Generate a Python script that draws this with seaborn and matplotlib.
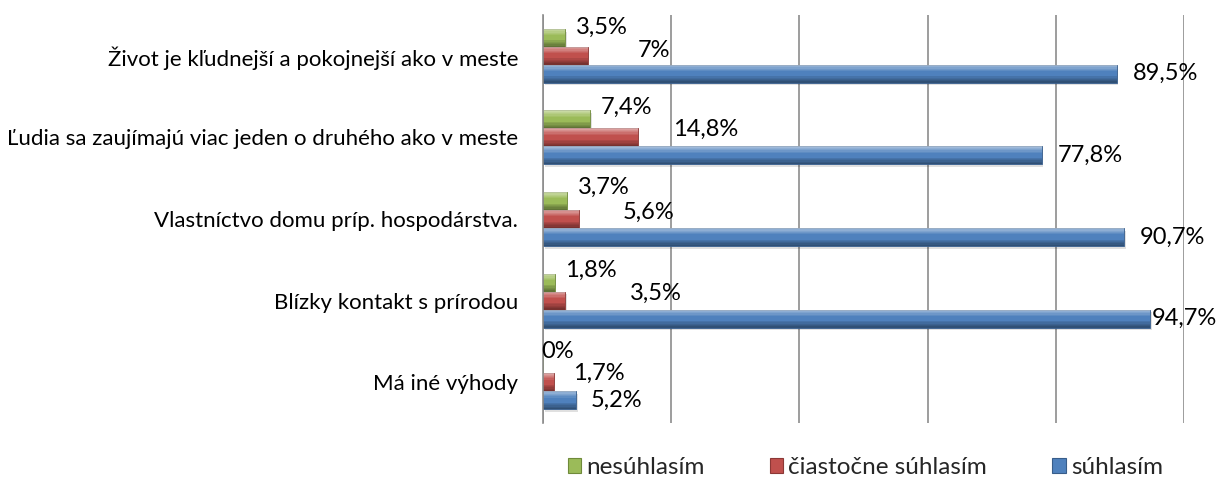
import matplotlib
matplotlib.use("Agg")
import matplotlib.pyplot as plt
from matplotlib.patches import Rectangle
import seaborn as sns
import pandas as pd
import numpy as np

categories = [
    "Život je kľudnejší a pokojnejší ako v meste",
    "Ľudia sa zaujímajú viac jeden o druhého ako v meste",
    "Vlastníctvo domu príp. hospodárstva.",
    "Blízky kontakt s prírodou",
    "Má iné výhody",
]
series_names = ["nesúhlasím", "čiastočne súhlasím", "súhlasím"]
nesuhlasim = [3.5, 7.4, 3.7, 1.8, 0]
ciastocne = [7, 14.8, 5.6, 3.5, 1.7]
suhlasim = [89.5, 77.8, 90.7, 94.7, 5.2]

colors = ["#9BBB59", "#C0504D", "#4F81BD"]
edge_colors = ["#6F8A3A", "#8C3836", "#385D8A"]

# label offsets (pixels) from bar end / bar centre
label_dx = [[10, 10, 11, 10, -2], [50, 35, 44, 64, 19], [16, 16, 15, 2, 14]]
label_dy = [[11, 12, 14, 12, 13], [5, 8, 7, 7, 9], [0, 0, 0, 0, 0]]

rows = []
for name, vals in zip(series_names, [nesuhlasim, ciastocne, suhlasim]):
    for c, v in zip(categories, vals):
        rows.append({"kategória": c, "séria": name, "hodnota": v})
df = pd.DataFrame(rows)

sns.set_theme(style="white")
plt.rcParams["font.family"] = ["Lato", "DejaVu Sans"]

fig = plt.figure(figsize=(12.22, 4.93), dpi=100)
ax = fig.add_axes([543 / 1222, 70 / 493, 641 / 1222, 408 / 493])

sns.barplot(data=df, y="kategória", x="hodnota", hue="séria",
            order=categories, hue_order=series_names,
            palette=colors, orient="h", width=0.66, ax=ax,
            errorbar=None, legend=False, saturation=1)

ax.set_xlim(0, 100)
ax.set_xticks(np.arange(0, 101, 20))
ax.xaxis.grid(True, color="#8C8C8C", linewidth=1.2)
ax.set_axisbelow(True)
ax.set_xticklabels([])
ax.tick_params(axis="x", length=0)
ax.tick_params(axis="y", length=0, pad=18, labelsize=16, labelcolor="#000000")
ax.set_xlabel("")
ax.set_ylabel("")
for s in ["top", "right", "bottom"]:
    ax.spines[s].set_visible(False)
ax.spines["left"].set_color("#8C8C8C")
ax.spines["left"].set_linewidth(1.2)

fmt = lambda v: (f"{v:g}".replace(".", ",")) + "%"

# vertical shading profile for a bevelled look (top light -> bottom dark)
n_strips = 14
profile = np.concatenate([np.linspace(0.45, 0.0, 6), np.zeros(3), np.linspace(-0.1, -0.38, 5)])

for si, cont in enumerate(ax.containers):
    for ci, p in enumerate(cont.patches):
        x0, y0 = p.get_x(), p.get_y()
        w, h = p.get_width(), p.get_height()
        p.set_edgecolor(edge_colors[si])
        p.set_linewidth(0.6)
        z = p.get_zorder()
        if w > 0:
            ax.add_patch(Rectangle((x0 + 0.25, y0 + h * 0.15), w, h, color="#000000",
                                   alpha=0.12, zorder=z - 0.1, linewidth=0))
            sh = h / n_strips
            for k, a in enumerate(profile):
                if a == 0:
                    continue
                ax.add_patch(Rectangle((x0, y0 + k * sh), w, sh,
                                       color="white" if a > 0 else "black",
                                       alpha=abs(a), zorder=z + 0.1, linewidth=0))
        ax.annotate(fmt(cont.datavalues[ci]), xy=(x0 + w, y0 + h / 2),
                    xytext=(label_dx[si][ci], label_dy[si][ci]), textcoords="offset pixels",
                    ha="left", va="center", fontsize=17, color="#000000", zorder=10)

handles = [Rectangle((0, 0), 1, 1, facecolor=c, edgecolor=e, linewidth=0.8)
           for c, e in zip(colors, edge_colors)]
fig.legend(handles, series_names, loc="center", bbox_to_anchor=(0.708, 0.051),
           ncol=3, frameon=False, fontsize=17.5, handlelength=0.55, handleheight=0.55,
           handletextpad=0.2, columnspacing=2.7, borderaxespad=0)

fig.savefig("out.png", dpi=100, facecolor="white")
